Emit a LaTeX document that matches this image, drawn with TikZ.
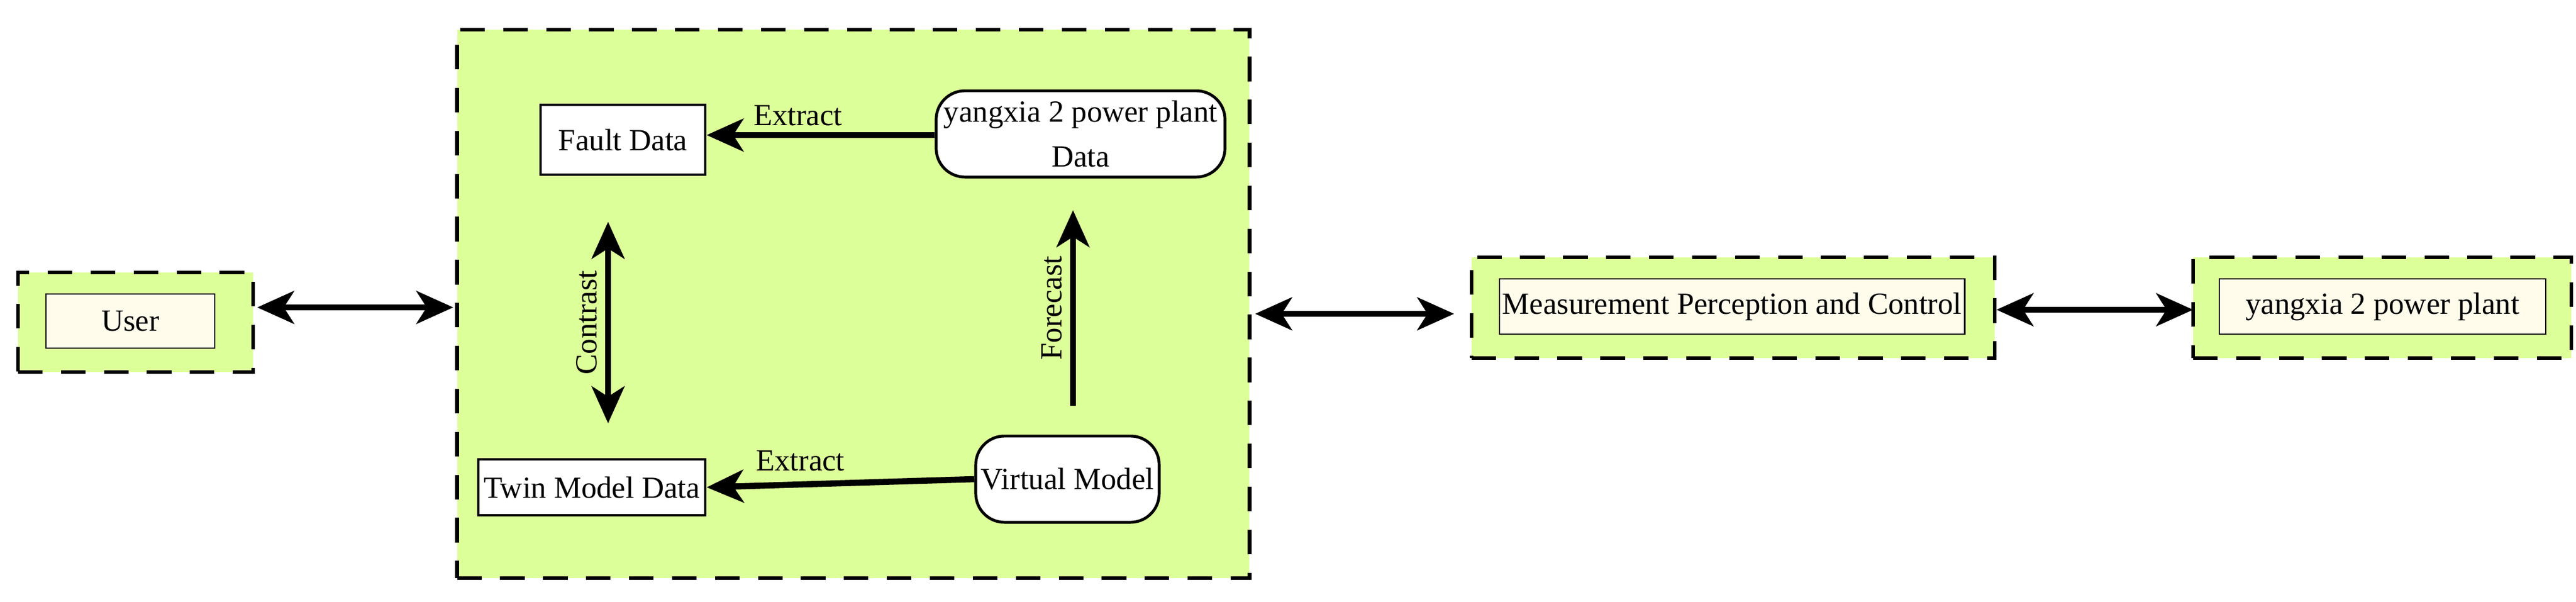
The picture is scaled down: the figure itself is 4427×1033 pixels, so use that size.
\documentclass[tikz,border=0pt]{standalone}
\usepackage{fontspec}
\setmainfont{Liberation Serif}
\usetikzlibrary{arrows.meta}
\definecolor{grn}{HTML}{DDFF99}
\definecolor{crm}{HTML}{FFFCEB}
\begin{document}
\begin{tikzpicture}[x=0.01cm,y=-0.01cm,
  every node/.style={font=\fontsize{15}{18}\selectfont, inner sep=0pt, align=center},
  grp/.style={draw, fill=grn, line width=1.8pt, dash pattern=on 12pt off 9pt},
  inbox/.style={draw, fill=crm, line width=0.7pt},
  plain/.style={draw, fill=white, line width=1.3pt},
  rnd/.style={draw, fill=white, line width=1.4pt, rounded corners=14pt},
  arr/.style={line width=3pt, {Stealth[length=18pt,width=16pt,inset=5pt]}-{Stealth[length=18pt,width=16pt,inset=5pt]}},
  sarr/.style={line width=3pt, -{Stealth[length=18pt,width=16pt,inset=5pt]}}]
\useasboundingbox (0,0) rectangle (4427,1033);
\node[grp, minimum width=13.61cm, minimum height=9.42cm] (main) at (1466.5,522) {};
\node[grp, minimum width=4.04cm, minimum height=1.71cm] (userg) at (233,553.5) {};
\node[inbox, minimum width=2.9cm, minimum height=0.93cm] (user) at (224,551.5) {User};
\node[grp, minimum width=8.99cm, minimum height=1.73cm] (measg) at (2978.5,528.5) {};
\node[inbox, minimum width=7.99cm, minimum height=0.95cm] (meas) at (2976.5,526.5) {Measurement Perception and Control};
\node[grp, minimum width=6.5cm, minimum height=1.73cm] (plantg) at (4094,528.5) {};
\node[inbox, minimum width=5.61cm, minimum height=0.95cm] (plant) at (4094.5,526.5) {yangxia 2 power plant};
\node[plain, minimum width=2.83cm, minimum height=1.2cm] (fault) at (1070.5,240) {Fault Data};
\node[rnd, minimum width=4.96cm, minimum height=1.48cm] (ydata) at (1857,230) {yangxia 2 power plant\\[4pt]Data};
\node[plain, minimum width=3.9cm, minimum height=0.96cm] (twin) at (1017,837) {Twin Model Data};
\node[rnd, minimum width=3.15cm, minimum height=1.48cm] (virt) at (1834.5,823) {Virtual Model};
\coordinate (c1) at (1045,381); \coordinate (c2) at (1045,727);
\coordinate (f1) at (1844,697); \coordinate (f2) at (1844,361);
\coordinate (u1) at (442,528); \coordinate (u2) at (779,528);
\coordinate (m1) at (2157,539); \coordinate (m2) at (2499,539);
\coordinate (p1) at (3431,532); \coordinate (p2) at (3769,532);
\draw[arr] (u1) -- (u2);
\draw[arr] (m1) -- (m2);
\draw[arr] (p1) -- (p2);
\draw[sarr] (ydata.west |- 0,232) -- (fault.east |- 0,232) node[pos=0.6, above=3pt] {Extract};
\draw[sarr] (virt.west) -- (twin.east) node[pos=0.65, above=5pt] {Extract};
\draw[arr] (c1) -- (c2) node[midway, left=4pt, rotate=90, anchor=south] {Contrast};
\draw[sarr] (f1) -- (f2) node[midway, rotate=90, anchor=south, yshift=4pt] {Forecast};
\end{tikzpicture}
\end{document}
